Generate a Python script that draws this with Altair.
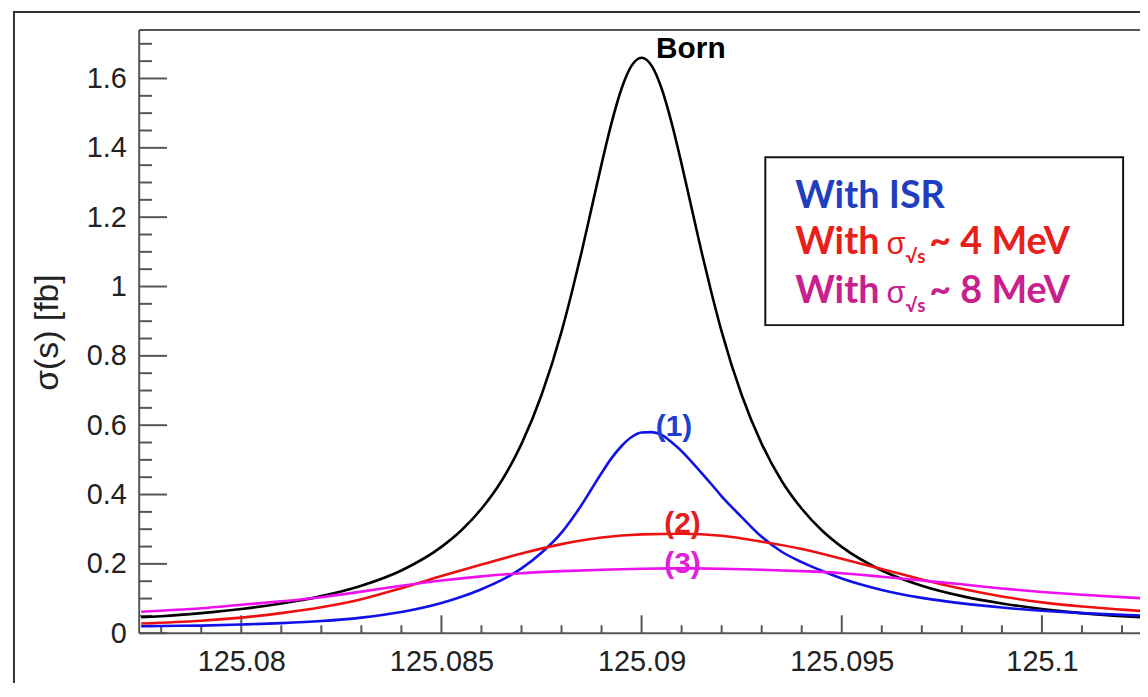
import altair as alt
import pandas as pd

# ---------------- data ----------------
# fine grid for Born and ISR curves (sqrt(s) in GeV)
grid_fine = [125.0775, 125.078, 125.079, 125.080, 125.081, 125.082, 125.083, 125.084,
             125.085, 125.0855, 125.086, 125.0865, 125.087, 125.0875, 125.088, 125.08825,
             125.0885, 125.08875, 125.089, 125.08925, 125.0895, 125.08975, 125.090,
             125.09025, 125.0905, 125.09075, 125.091, 125.09125, 125.0915, 125.09175,
             125.092, 125.0925, 125.093, 125.0935, 125.094, 125.0945, 125.095, 125.096,
             125.097, 125.098, 125.099, 125.100, 125.101, 125.102, 125.1025]
born = [0.046, 0.049, 0.058, 0.070, 0.086, 0.107, 0.137, 0.181,
        0.249, 0.297, 0.359, 0.439, 0.546, 0.687, 0.870, 0.980,
        1.099, 1.226, 1.353, 1.472, 1.571, 1.637, 1.660,
        1.637, 1.571, 1.472, 1.353, 1.226, 1.099, 0.980,
        0.870, 0.687, 0.546, 0.439, 0.359, 0.297, 0.249, 0.181,
        0.137, 0.107, 0.086, 0.070, 0.058, 0.049, 0.046]
with_isr = [0.020, 0.021, 0.022, 0.025, 0.029, 0.035, 0.045, 0.061,
            0.087, 0.105, 0.127, 0.153, 0.187, 0.232, 0.290, 0.328,
            0.370, 0.416, 0.462, 0.505, 0.540, 0.566, 0.579,
            0.580, 0.572, 0.551, 0.525, 0.494, 0.462, 0.429,
            0.395, 0.335, 0.278, 0.235, 0.205, 0.180, 0.158, 0.125,
            0.102, 0.086, 0.074, 0.065, 0.058, 0.053, 0.051]

# coarse grid for the beam-spread curves
grid_coarse = [125.0775, 125.079, 125.080, 125.081, 125.082, 125.083, 125.084, 125.085,
               125.086, 125.087, 125.088, 125.089, 125.090, 125.091, 125.092, 125.093,
               125.094, 125.095, 125.096, 125.097, 125.098, 125.099, 125.100, 125.101,
               125.102, 125.1025]
spread_4mev = [0.028, 0.036, 0.045, 0.058, 0.075, 0.098, 0.130, 0.165,
               0.198, 0.230, 0.257, 0.276, 0.285, 0.287, 0.281, 0.264,
               0.243, 0.215, 0.185, 0.155, 0.128, 0.106, 0.089, 0.077,
               0.068, 0.064]
spread_8mev = [0.062, 0.072, 0.082, 0.092, 0.104, 0.120, 0.137, 0.152,
               0.164, 0.173, 0.179, 0.183, 0.186, 0.187, 0.186, 0.183,
               0.179, 0.173, 0.163, 0.152, 0.141, 0.129, 0.119, 0.111,
               0.104, 0.101]

series_names = ["Born", "ISR", "4MeV", "8MeV"]
series_colors = ["#000000", "#1010e8", "#ee1010", "#ee10ee"]

# axis ticks
x_major = [125.08, 125.085, 125.09, 125.095, 125.1]
x_minor = [125.078, 125.079, 125.081, 125.082, 125.083, 125.084, 125.086, 125.087,
           125.088, 125.089, 125.091, 125.092, 125.093, 125.094, 125.096, 125.097,
           125.098, 125.099, 125.101, 125.102]
y_major = [0, 0.2, 0.4, 0.6, 0.8, 1.0, 1.2, 1.4, 1.6]
y_minor = [0.05, 0.1, 0.15, 0.25, 0.3, 0.35, 0.45, 0.5, 0.55, 0.65, 0.7, 0.75,
           0.85, 0.9, 0.95, 1.05, 1.1, 1.15, 1.25, 1.3, 1.35, 1.45, 1.5, 1.55,
           1.65, 1.7]

# curve labels
annot_text = ["Born", "(1)", "(2)", "(3)"]
annot_x = [125.09123, 125.09081, 125.09102, 125.09102]
annot_y = [1.685, 0.596, 0.315, 0.200]
annot_color = ["#000000", "#1f3fcf", "#e0201c", "#e020d8"]

# ---------------- build tables ----------------
rows = []
for s, xs, ys in [("Born", grid_fine, born), ("ISR", grid_fine, with_isr),
                  ("4MeV", grid_coarse, spread_4mev), ("8MeV", grid_coarse, spread_8mev)]:
    for a, b in zip(xs, ys):
        rows.append({"series": s, "x": a, "y": b})
curves = pd.DataFrame(rows)

W, H = 1007, 607
XDOM = [125.07745, 125.10245]
YDOM = [0, 1.74]
xs_ = alt.Scale(domain=XDOM, nice=False, zero=False)
ys_ = alt.Scale(domain=YDOM, nice=False, zero=False)
FONT = "Liberation Sans"
TICK = "#555555"

xaxis = alt.Axis(values=x_major, format=".3~f", title=None, labelPadding=15,
                 labelFlush=False, grid=False, ticks=False, domain=False,
                 labelFont=FONT, labelFontSize=29, labelColor="#222222")
yaxis = alt.Axis(values=y_major, format=".2~f", labelPadding=13, grid=False,
                 ticks=False, domain=False, labelFont=FONT, labelFontSize=29,
                 labelColor="#222222",
                 title="σ(s) [fb]", titleFont=FONT, titleFontSize=34,
                 titleFontWeight="normal", titleColor="#222222",
                 titleX=-92, titleY=304, titleAngle=270,
                 titleAlign="center", titleBaseline="middle")

one = pd.DataFrame({"a": [0]})

frame = alt.Chart(one).mark_rect(filled=False, color="#333333", strokeWidth=2).encode(
    x=alt.value(-126), x2=alt.value(W + 60), y=alt.value(-18), y2=alt.value(H + 120))

# plot frame (left, top, bottom; right side lies beyond the picture)
fr_left = alt.Chart(one).mark_rule(color=TICK, strokeWidth=2).encode(
    x=alt.value(0), y=alt.value(0), y2=alt.value(H))
fr_top = alt.Chart(one).mark_rule(color=TICK, strokeWidth=2).encode(
    x=alt.value(0), x2=alt.value(W + 10), y=alt.value(0))
fr_bot = alt.Chart(one).mark_rule(color=TICK, strokeWidth=2).encode(
    x=alt.value(0), x2=alt.value(W + 10), y=alt.value(H))

xmaj = alt.Chart(pd.DataFrame({"x": x_major})).mark_rule(color=TICK, strokeWidth=2).encode(
    x=alt.X("x:Q", scale=xs_, axis=xaxis), y=alt.value(H), y2=alt.value(H - 18))
xmin = alt.Chart(pd.DataFrame({"x": x_minor})).mark_rule(color=TICK, strokeWidth=2).encode(
    x=alt.X("x:Q", scale=xs_, axis=xaxis), y=alt.value(H), y2=alt.value(H - 8))
ymaj = alt.Chart(pd.DataFrame({"y": y_major})).mark_rule(color=TICK, strokeWidth=2).encode(
    y=alt.Y("y:Q", scale=ys_, axis=yaxis), x=alt.value(0), x2=alt.value(28))
ymin = alt.Chart(pd.DataFrame({"y": y_minor})).mark_rule(color=TICK, strokeWidth=2).encode(
    y=alt.Y("y:Q", scale=ys_, axis=yaxis), x=alt.value(0), x2=alt.value(13))

lines = alt.Chart(curves).mark_line(strokeWidth=2.6, interpolate="monotone").encode(
    x=alt.X("x:Q", scale=xs_, axis=xaxis),
    y=alt.Y("y:Q", scale=ys_, axis=yaxis),
    color=alt.Color("series:N", scale=alt.Scale(domain=series_names, range=series_colors),
                    legend=None),
    detail="series:N",
)

annots = alt.Chart(pd.DataFrame({"t": annot_text, "x": annot_x, "y": annot_y,
                                 "c": annot_color})).mark_text(
    font=FONT, fontSize=30, fontWeight="bold", align="center", baseline="middle").encode(
    x=alt.X("x:Q", scale=xs_, axis=xaxis), y=alt.Y("y:Q", scale=ys_, axis=yaxis),
    text="t:N", color=alt.Color("c:N", scale=None))

# legend box
leg_box = alt.Chart(one).mark_rect(fill="white", stroke="#111111", strokeWidth=2).encode(
    x=alt.value(630), x2=alt.value(990), y=alt.value(128), y2=alt.value(297))

LF = "Lato"
LS = 38
def ltxt(t, x, y, color, size=LS, font=LF, weight="bold"):
    return alt.Chart(one).mark_text(font=font, fontSize=size, fontWeight=weight,
                                    align="left", baseline="alphabetic", color=color,
                                    text=t).encode(x=alt.value(x), y=alt.value(y))

BLUE_T, RED_T, MAG_T = "#1f3fbf", "#e8201c", "#c8208c"
legend = [
    ltxt("With ISR", 660, 179, BLUE_T),
    ltxt("With", 660, 225, RED_T),
    ltxt("σ", 752, 225, RED_T, 31, FONT, "normal"),
    ltxt("√s", 771, 234, RED_T, 19),
    ltxt("~ 4 MeV", 795, 225, RED_T),
    ltxt("With", 660, 275, MAG_T),
    ltxt("σ", 752, 275, MAG_T, 31, FONT, "normal"),
    ltxt("√s", 771, 284, MAG_T, 19),
    ltxt("~ 8 MeV", 795, 275, MAG_T),
]

chart = alt.layer(frame, xmin, xmaj, ymin, ymaj, lines, fr_left, fr_top, fr_bot,
                  annots, leg_box, *legend).properties(
    width=W, height=H, autosize="none",
    padding={"left": 132, "top": 20, "right": 0, "bottom": 48},
).configure_view(stroke=None)

chart.save("out.html", embed_options={"renderer": "svg", "actions": False})
